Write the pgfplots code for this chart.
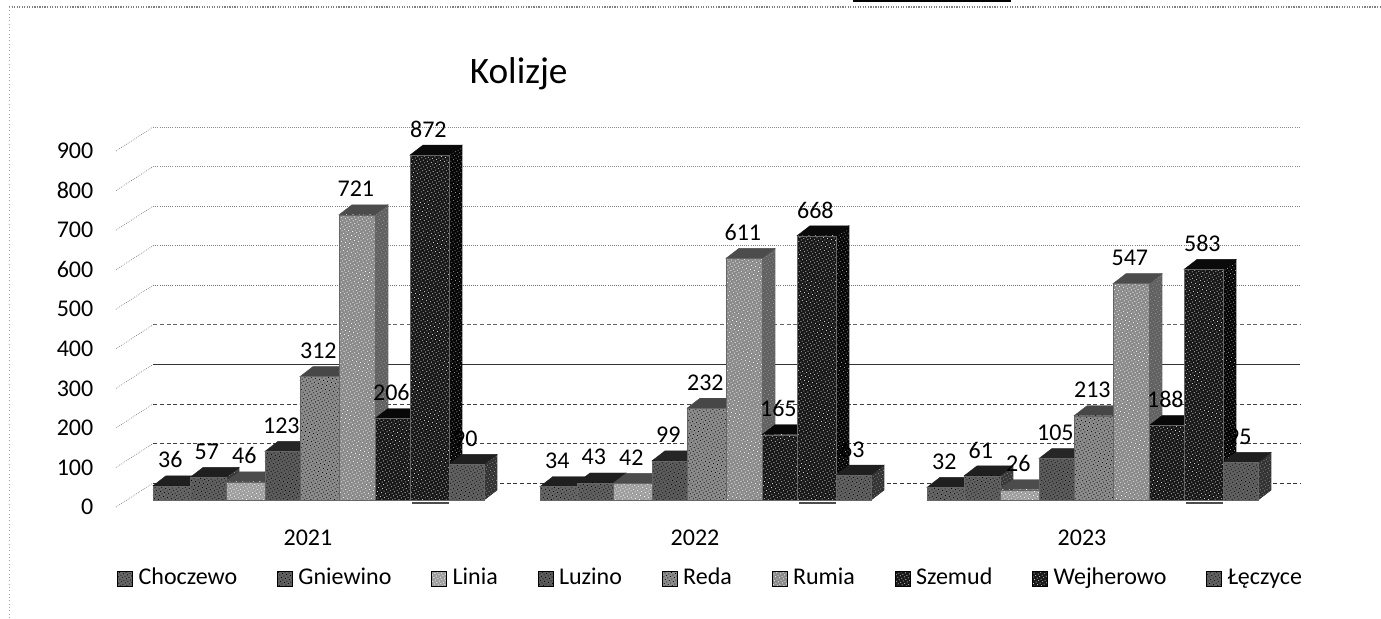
\documentclass[border=0pt]{standalone}
\usepackage{fontspec}
\setmainfont{Carlito}
\usepackage{pgfplots}
\usetikzlibrary{patterns.meta}
\pgfplotsset{compat=1.18}
\definecolor{c0}{gray}{0.40}\definecolor{c0t}{gray}{0.12}\definecolor{c0s}{gray}{0.25}
\definecolor{c1}{gray}{0.38}\definecolor{c1t}{gray}{0.12}\definecolor{c1s}{gray}{0.22}
\definecolor{c2}{gray}{0.62}\definecolor{c2t}{gray}{0.30}\definecolor{c2s}{gray}{0.45}
\definecolor{c3}{gray}{0.36}\definecolor{c3t}{gray}{0.15}\definecolor{c3s}{gray}{0.22}
\definecolor{c4}{gray}{0.55}\definecolor{c4t}{gray}{0.28}\definecolor{c4s}{gray}{0.35}
\definecolor{c5}{gray}{0.54}\definecolor{c5t}{gray}{0.3}\definecolor{c5s}{gray}{0.38}
\definecolor{c6}{gray}{0.09}\definecolor{c6t}{gray}{0.03}\definecolor{c6s}{gray}{0.06}
\definecolor{c7}{gray}{0.09}\definecolor{c7t}{gray}{0.04}\definecolor{c7s}{gray}{0.02}
\definecolor{c8}{gray}{0.38}\definecolor{c8t}{gray}{0.12}\definecolor{c8s}{gray}{0.2}
\tikzset{grain/.style={postaction={pattern={Dots[distance=2.2pt,radius=0.42pt,angle=30]},pattern color=#1}}}
\newcommand\barfont{\fontsize{18pt}{20pt}\selectfont}
% x offsets of the bars in a group, in fractions of the group pitch
\pgfmathdeclarefunction{baroff}{1}{\pgfmathparse{{0,37,73,112,147,186,222,257,296,331}[#1]/387}}
% #1 year index, #2 series index, #3 value
\newcommand\labelbar[3]{%
  \pgfmathsetmacro\xa{#1-0.4005+baroff(#2)}%
  \pgfmathsetmacro\xb{#1-0.4005+baroff(#2+1)}%
  \pgfmathsetmacro\xc{(\xa+\xb)/2-0.003}%
  \pgfmathsetmacro\tp{#3+17.7}%
  \edef\temp{\noexpand\addplot[forget plot,draw=none,mark=none,nodes near coords={#3},
    every node near coord/.style={anchor=center,yshift=19.4pt,font=\noexpand\barfont,inner sep=0pt}]
    coordinates {(\xc,\tp)};}\temp}
\newcommand\drawbar[3]{%
  \pgfmathsetmacro\xa{#1-0.4005+baroff(#2)}%
  \pgfmathsetmacro\xb{#1-0.4005+baroff(#2+1)}%
  \pgfmathsetmacro\xd{\xb+0.0336}%
  \pgfmathsetmacro\xe{\xa+0.0336}%
  \pgfmathsetmacro\tp{#3+17.7}%
  \pgfmathsetmacro\tq{\tp+25.3}%
  \edef\temp{\noexpand\addplot[forget plot,fill=c#2s,draw=c#2s,line width=0.3pt,grain=white!60!black] coordinates {(\xb,17.7)(\xd,43)(\xd,\tq)(\xb,\tp)} --cycle;
  \noexpand\addplot[forget plot,fill=c#2t,draw=c#2t,line width=0.3pt] coordinates {(\xa,\tp)(\xe,\tq)(\xd,\tq)(\xb,\tp)} --cycle;
  \noexpand\addplot[forget plot,fill=c#2,draw=black!60,line width=0.3pt,grain=\noexpand\graincol{#2}] coordinates {(\xa,17.7)(\xa,\tp)(\xb,\tp)(\xb,17.7)} --cycle;}\temp}
\newcommand\graincol[1]{\ifnum#1=6 white!85!black\else\ifnum#1=7 white!85!black\else\ifnum#1=2 white\else\ifnum#1=5 white\else black\fi\fi\fi\fi}
\newcommand\gridl[2]{%
  \pgfmathsetmacro\yb{#1+60.7}%
  \edef\temp{\noexpand\addplot[forget plot,mark=none,black!55,densely dotted,line width=0.5pt] coordinates {(-0.496,#1)(-0.4,\yb)};
  \noexpand\addplot[forget plot,mark=none,#2] coordinates {(-0.4,\yb)(2.5633,\yb)};}\temp}
\newcommand\allseries[1]{%
  #1{0}{0}{36}#1{0}{1}{57}#1{0}{2}{46}#1{0}{3}{123}#1{0}{4}{312}#1{0}{5}{721}#1{0}{6}{206}#1{0}{7}{872}#1{0}{8}{90}%
  #1{1}{0}{34}#1{1}{1}{43}#1{1}{2}{42}#1{1}{3}{99}#1{1}{4}{232}#1{1}{5}{611}#1{1}{6}{165}#1{1}{7}{668}#1{1}{8}{63}%
  #1{2}{0}{32}#1{2}{1}{61}#1{2}{2}{26}#1{2}{3}{105}#1{2}{4}{213}#1{2}{5}{547}#1{2}{6}{188}#1{2}{7}{583}#1{2}{8}{95}}
\begin{document}
\begin{tikzpicture}
\path[use as bounding box,fill=white] (0,0) rectangle (1035.75pt,463.5pt);
\begin{axis}[
  at={(73.5pt,83.25pt)},anchor=south west,
  scale only axis,width=901.5pt,height=267pt,
  xmin=-0.5426,xmax=2.5633,ymin=0,ymax=900,
  clip=false,
  axis line style={draw=none},
  major tick length=0pt,
  xtick={0,1,2},xticklabels={2021,2022,2023},
  ytick={0,100,...,900},
  /pgf/number format/assume math mode=true,
  tick label style={font=\barfont},
  xticklabel style={yshift=-14pt},
  title={Kolizje},
  title style={at={(0.35,1.194)},anchor=center,font=\fontsize{28pt}{32pt}\selectfont},
  legend columns=9,
  legend style={at={(0.51,-0.2016)},anchor=center,draw=none,fill=none,font=\barfont,
    nodes={text height=12pt,text depth=4pt,inner ysep=0pt},
    /tikz/every even column/.style={column sep=28pt},
    /tikz/every odd column/.style={column sep=2.5pt},inner sep=0pt},
  legend cell align=left,
  legend image code/.code={\path[#1] (0pt,-5.5pt) rectangle (11pt,5.5pt);},
]
\addlegendimage{fill=c0,draw=black,grain=black}\addlegendentry{Choczewo}
\addlegendimage{fill=c1,draw=black,grain=black}\addlegendentry{Gniewino}
\addlegendimage{fill=c2,draw=black,grain=white}\addlegendentry{Linia}
\addlegendimage{fill=c3,draw=black,grain=black}\addlegendentry{Luzino}
\addlegendimage{fill=c4,draw=black,grain=black}\addlegendentry{Reda}
\addlegendimage{fill=c5,draw=black,grain=white}\addlegendentry{Rumia}
\addlegendimage{fill=c6,draw=black,grain=white!85!black}\addlegendentry{Szemud}
\addlegendimage{fill=c7,draw=black,grain=white!85!black}\addlegendentry{Wejherowo}
\addlegendimage{fill=c8,draw=black,grain=black}\addlegendentry{Łęczyce}
% scan edges
\addplot[forget plot,mark=none,gray,densely dotted,line width=0.9pt] coordinates {(-0.7726,1264)(2.7726,1264)};
\addplot[forget plot,mark=none,black,line width=1.5pt] coordinates {(1.408,1279)(1.8165,1279)};
\addplot[forget plot,mark=none,gray!70,dotted,line width=0.5pt] coordinates {(-0.7726,1264)(-0.7726,-280)};
% walls and grid
\gridl{0}{black!80,densely dashed,line width=0.5pt}
\gridl{100}{black!75,densely dashed,line width=0.5pt}
\gridl{200}{black!75,densely dashed,line width=0.5pt}
\gridl{300}{black!80,line width=0.45pt}
\gridl{400}{black!60,densely dashed,line width=0.45pt}
\gridl{500}{black!55,densely dotted,line width=0.6pt}
\gridl{600}{black!50,densely dotted,line width=0.6pt}
\gridl{700}{black!50,densely dotted,line width=0.6pt}
\gridl{800}{black!45,densely dotted,line width=0.6pt}
\gridl{900}{black!45,densely dotted,line width=0.6pt}
\allseries{\labelbar}
\allseries{\drawbar}
% feet under the dark columns
\addplot[forget plot,mark=none,black!70,line width=1pt] coordinates {(0.2687,10)(0.3643,10)};
\addplot[forget plot,mark=none,black!70,line width=1pt] coordinates {(1.2687,10)(1.3643,10)};
\addplot[forget plot,mark=none,black!70,line width=1pt] coordinates {(2.2687,10)(2.3643,10)};
\end{axis}
\end{tikzpicture}
\end{document}
